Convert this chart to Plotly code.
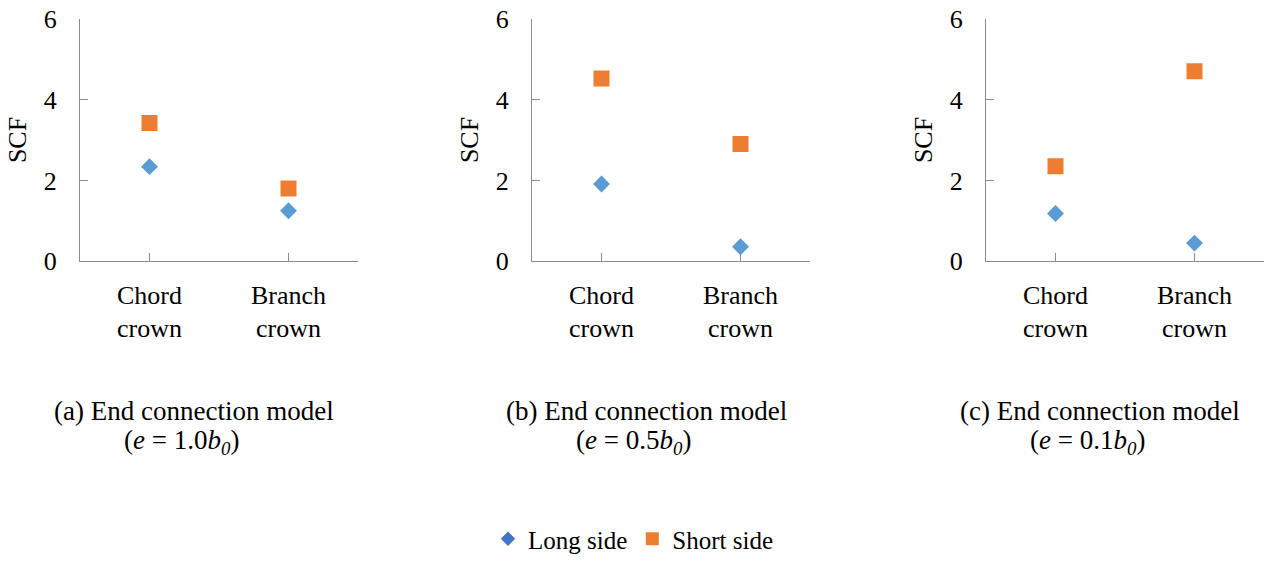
import plotly.graph_objects as go

# Stress concentration factors for the three end connection models
categories = ["Chord<br>crown", "Branch<br>crown"]
panel_tags = ["(a)", "(b)", "(c)"]
eccentricity = ["1.0", "0.5", "0.1"]

long_a = [2.34, 1.25]
short_a = [3.42, 1.80]
long_b = [1.91, 0.36]
short_b = [4.52, 2.90]
long_c = [1.18, 0.45]
short_c = [2.35, 4.70]

long_side = [long_a, long_b, long_c]
short_side = [short_a, short_b, short_c]

y_ticks = [0, 2, 4, 6]

W, H = 1273, 562
FONT = "Liberation Serif, Times New Roman, serif"
AXIS_GREY = "#8c8c8c"
BLUE = "#5B9BD5"
BLUE_LEGEND = "#4472C4"
ORANGE = "#ED7D31"

# pixel layout of each panel's plotting area
left_px = [80, 532, 986]
plot_w = 278
top_px, bottom_px = 19, 267

fig = go.Figure()
x_idx = list(range(len(categories)))

for i in range(3):
    ax = "" if i == 0 else str(i + 1)
    fig.add_trace(go.Scatter(
        x=x_idx, y=long_side[i], mode="markers", showlegend=False,
        marker=dict(symbol="diamond", size=13, color=BLUE),
        xaxis="x" + ax, yaxis="y" + ax))
    fig.add_trace(go.Scatter(
        x=x_idx, y=short_side[i], mode="markers", showlegend=False,
        marker=dict(symbol="square", size=16, color=ORANGE),
        xaxis="x" + ax, yaxis="y" + ax))

    x0 = left_px[i] / W
    x1 = (left_px[i] + plot_w) / W
    y0 = 1 - bottom_px / H
    y1 = 1 - top_px / H
    fig.update_layout(**{
        "xaxis" + ax: dict(
            domain=[x0, x1], range=[-0.5, len(categories) - 0.5],
            tickmode="array", tickvals=x_idx, ticktext=categories,
            ticks="inside", ticklen=8, tickcolor=AXIS_GREY, tickwidth=1.3,
            minor=dict(tickmode="array", tickvals=[len(categories) - 0.5],
                       ticks="inside", ticklen=8, tickcolor=AXIS_GREY,
                       tickwidth=1.3, showgrid=False),
            showline=True, linecolor=AXIS_GREY, linewidth=1.3,
            showgrid=False, zeroline=False, anchor="y" + ax,
            ticklabelstandoff=10,
            tickfont=dict(family=FONT, size=26, color="black"),
            fixedrange=True),
        "yaxis" + ax: dict(
            domain=[y0, y1], range=[0, 6],
            tickmode="array", tickvals=y_ticks,
            ticks="inside", ticklen=8, tickcolor=AXIS_GREY, tickwidth=1.3,
            showline=True, linecolor=AXIS_GREY, linewidth=1.3,
            showgrid=False, zeroline=False, anchor="x" + ax,
            ticklabelstandoff=17,
            tickfont=dict(family=FONT, size=26, color="black"),
            title=dict(text="SCF", standoff=9,
                       font=dict(family=FONT, size=26, color="black")),
            automargin=False, fixedrange=True),
    })

    # panel caption, two lines
    fig.add_annotation(
        xref="paper", yref="paper",
        x=(left_px[i] - 28) / W, y=1 - 420 / H,
        xanchor="left", yanchor="middle", showarrow=False,
        text=f"{panel_tags[i]} End connection model",
        font=dict(family=FONT, size=27, color="black"))
    fig.add_annotation(
        xref="paper", yref="paper",
        x=(left_px[i] + 42) / W, y=1 - 452 / H,
        xanchor="left", yanchor="middle", showarrow=False,
        text=f"(<i>e</i> = {eccentricity[i]}<i>b</i><sub><i>0</i></sub>)",
        font=dict(family=FONT, size=27, color="black"))

# legend entries
fig.add_trace(go.Scatter(
    x=[None], y=[None], mode="markers", name="Long side",
    marker=dict(symbol="diamond", size=11, color=BLUE_LEGEND)))
fig.add_trace(go.Scatter(
    x=[None], y=[None], mode="markers", name="Short side",
    marker=dict(symbol="square", size=13, color=ORANGE)))

fig.update_layout(
    width=W, height=H,
    margin=dict(l=0, r=0, t=0, b=0),
    paper_bgcolor="white", plot_bgcolor="white",
    showlegend=True,
    legend=dict(orientation="h", x=633 / W, xanchor="center",
                y=1 - 551 / H, yanchor="middle",
                font=dict(family=FONT, size=25, color="black"),
                itemsizing="trace", bgcolor="rgba(0,0,0,0)"),
)

fig.write_html("out.html")
